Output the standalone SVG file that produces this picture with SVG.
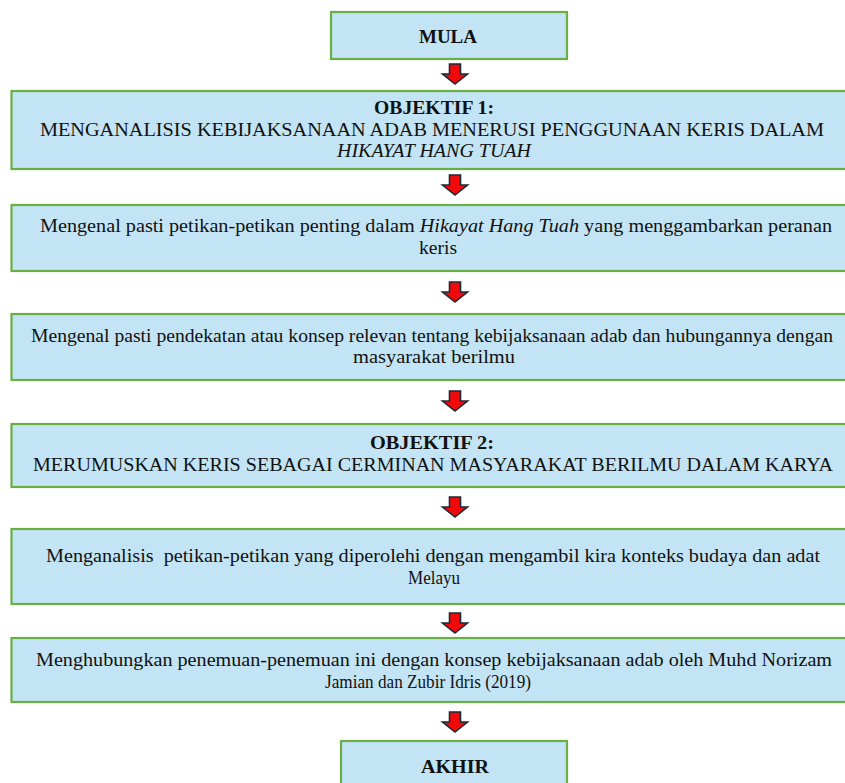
<svg xmlns="http://www.w3.org/2000/svg" width="845" height="783" viewBox="0 0 845 783">
<style>
.box{fill:#c3e4f4;stroke:#6aaf44;stroke-width:2.2}
.t{font-family:'Liberation Serif','Times New Roman',serif;font-size:18.5px;fill:#111;text-anchor:middle;white-space:pre}
.b{font-weight:bold}
.i{font-style:italic}
.arr{fill:#f20a0a;stroke:#1c2a38;stroke-width:1.6;stroke-linejoin:miter}
</style>
<defs>
<path id="arrow" d="M-5.5,0 H5.5 V10 H12.5 L0,20 L-12.5,10 H-5.5 Z"/>
</defs>
<rect width="845" height="783" fill="#fff"/>
<g id="connectors">
<use href="#arrow" class="arr" x="455" y="64"/>
<use href="#arrow" class="arr" x="455" y="175"/>
<use href="#arrow" class="arr" x="455" y="282"/>
<use href="#arrow" class="arr" x="455" y="391"/>
<use href="#arrow" class="arr" x="455" y="497"/>
<use href="#arrow" class="arr" x="455" y="613"/>
<use href="#arrow" class="arr" x="455" y="712"/>
</g>
<g id="mula">
<rect class="box" x="331" y="12" width="236" height="47"/>
<text class="t b" x="448" y="43" textLength="58" lengthAdjust="spacingAndGlyphs">MULA</text>
</g>
<g id="objektif1">
<rect class="box" x="11.5" y="91" width="850" height="78"/>
<text class="t b" x="434" y="114" textLength="120" lengthAdjust="spacingAndGlyphs">OBJEKTIF 1:</text>
<text class="t" x="432" y="136" textLength="784" lengthAdjust="spacingAndGlyphs">MENGANALISIS KEBIJAKSANAAN ADAB MENERUSI PENGGUNAAN KERIS DALAM</text>
<text class="t i" x="434" y="157" textLength="194" lengthAdjust="spacingAndGlyphs">HIKAYAT HANG TUAH</text>
</g>
<g id="langkah1">
<rect class="box" x="11.5" y="205" width="850" height="66"/>
<text class="t" x="436" y="232" textLength="792" lengthAdjust="spacingAndGlyphs">Mengenal pasti petikan-petikan penting dalam <tspan class="i">Hikayat Hang Tuah</tspan> yang menggambarkan peranan</text>
<text class="t" x="438" y="254" textLength="38" lengthAdjust="spacingAndGlyphs">keris</text>
</g>
<g id="langkah2">
<rect class="box" x="11.5" y="314" width="850" height="66"/>
<text class="t" x="432" y="342" textLength="802" lengthAdjust="spacingAndGlyphs">Mengenal pasti pendekatan atau konsep relevan tentang kebijaksanaan adab dan hubungannya dengan</text>
<text class="t" x="434" y="363" textLength="162" lengthAdjust="spacingAndGlyphs">masyarakat berilmu</text>
</g>
<g id="objektif2">
<rect class="box" x="11.5" y="424" width="850" height="63"/>
<text class="t b" x="432" y="449" textLength="124" lengthAdjust="spacingAndGlyphs">OBJEKTIF 2:</text>
<text class="t" x="433" y="471" textLength="800" lengthAdjust="spacingAndGlyphs">MERUMUSKAN KERIS SEBAGAI CERMINAN MASYARAKAT BERILMU DALAM KARYA</text>
</g>
<g id="langkah3">
<rect class="box" x="11.5" y="529" width="850" height="75"/>
<text class="t" x="433" y="562" textLength="774" lengthAdjust="spacingAndGlyphs">Menganalisis  petikan-petikan yang diperolehi dengan mengambil kira konteks budaya dan adat</text>
<text class="t" x="434" y="584" textLength="52" lengthAdjust="spacingAndGlyphs">Melayu</text>
</g>
<g id="langkah4">
<rect class="box" x="11.5" y="638" width="850" height="64"/>
<text class="t" x="434" y="666" textLength="796" lengthAdjust="spacingAndGlyphs">Menghubungkan penemuan-penemuan ini dengan konsep kebijaksanaan adab oleh Muhd Norizam</text>
<text class="t" x="428" y="688" textLength="206" lengthAdjust="spacingAndGlyphs">Jamian dan Zubir Idris (2019)</text>
</g>
<g id="akhir">
<rect class="box" x="341" y="741" width="226" height="50"/>
<text class="t b" x="455" y="773" textLength="68" lengthAdjust="spacingAndGlyphs">AKHIR</text>
</g>
</svg>
